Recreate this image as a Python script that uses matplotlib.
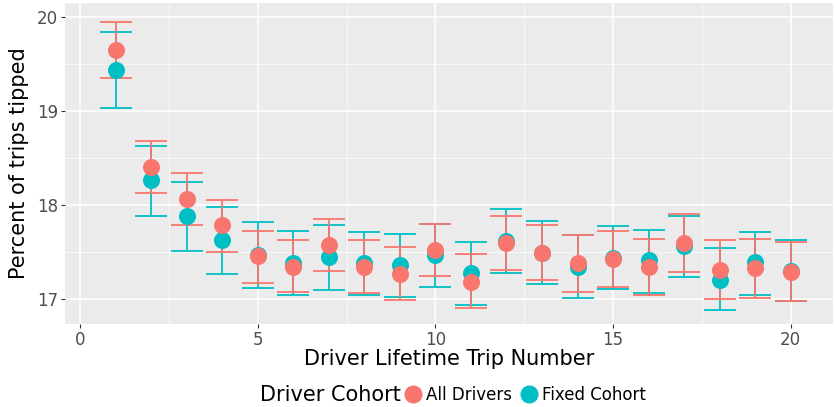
import numpy as np
import matplotlib.pyplot as plt
from matplotlib.lines import Line2D
from matplotlib.ticker import MultipleLocator

trip = np.arange(1, 21)

# All Drivers: mean, lower, upper
all_mean = [19.65, 18.40, 18.06, 17.78, 17.45, 17.34, 17.57, 17.34, 17.26, 17.52,
            17.18, 17.59, 17.49, 17.38, 17.42, 17.34, 17.59, 17.31, 17.33, 17.28]
all_lo = [19.35, 18.12, 17.78, 17.50, 17.17, 17.07, 17.29, 17.06, 16.99, 17.24,
          16.90, 17.30, 17.20, 17.07, 17.12, 17.04, 17.28, 17.00, 17.01, 16.97]
all_hi = [19.95, 18.68, 18.34, 18.05, 17.72, 17.62, 17.85, 17.62, 17.55, 17.80,
          17.47, 17.88, 17.78, 17.68, 17.72, 17.64, 17.90, 17.62, 17.64, 17.60]

# Fixed Cohort: mean, lower, upper
fix_mean = [19.44, 18.26, 17.88, 17.62, 17.46, 17.38, 17.44, 17.38, 17.36, 17.46,
            17.27, 17.61, 17.49, 17.34, 17.43, 17.41, 17.56, 17.20, 17.39, 17.29]
fix_lo = [19.03, 17.88, 17.51, 17.26, 17.11, 17.04, 17.09, 17.04, 17.02, 17.12,
          16.93, 17.27, 17.16, 17.01, 17.10, 17.06, 17.23, 16.88, 17.04, 16.97]
fix_hi = [19.84, 18.63, 18.24, 17.98, 17.82, 17.72, 17.78, 17.71, 17.69, 17.79,
          17.60, 17.95, 17.83, 17.68, 17.77, 17.73, 17.88, 17.54, 17.71, 17.62]

red = '#F8766D'
teal = '#00BFC4'

fig = plt.figure(figsize=(8.35, 4.07), dpi=100)
ax = fig.add_axes([0.078, 0.204, 0.92, 0.789])
ax.set_facecolor('#EBEBEB')

def draw_err(mean, lo, hi, color, z):
    mean = np.array(mean)
    yerr = [mean - np.array(lo), np.array(hi) - mean]
    ax.errorbar(trip, mean, yerr=yerr, fmt='none', ecolor=color, elinewidth=1.3,
                capsize=11.5, capthick=1.3, zorder=z)

draw_err(fix_mean, fix_lo, fix_hi, teal, 3)
draw_err(all_mean, all_lo, all_hi, red, 3)
ax.scatter(trip, fix_mean, s=150, color=teal, zorder=4, linewidths=0)
ax.scatter(trip, all_mean, s=150, color=red, zorder=5, linewidths=0)

ax.set_xlim(-0.42, 21.2)
ax.set_ylim(16.73, 20.15)
ax.xaxis.set_major_locator(MultipleLocator(5))
ax.xaxis.set_minor_locator(MultipleLocator(2.5))
ax.yaxis.set_major_locator(MultipleLocator(1))
ax.yaxis.set_minor_locator(MultipleLocator(0.5))
ax.grid(which='major', color='white', linewidth=1.1, zorder=0)
ax.grid(which='minor', color='white', linewidth=0.5, zorder=0)
ax.set_axisbelow(True)
for s in ax.spines.values():
    s.set_visible(False)
ax.tick_params(which='major', length=3, color='#333333', labelsize=12,
               labelcolor='#4D4D4D', pad=2)
ax.tick_params(which='minor', length=0)

ax.set_xlabel('Driver Lifetime Trip Number', fontsize=15, labelpad=0)
ax.set_ylabel('Percent of trips tipped', fontsize=15, labelpad=6)

fig.text(0.48, 0.03, 'Driver Cohort', fontsize=15, ha='right', va='center')
handles = [Line2D([], [], marker='o', linestyle='none', markersize=12, color=red),
           Line2D([], [], marker='o', linestyle='none', markersize=12, color=teal)]
fig.legend(handles, ['All Drivers', 'Fixed Cohort'], loc='center left',
           bbox_to_anchor=(0.482, 0.03), ncol=2, frameon=False, fontsize=12,
           handletextpad=0.1, columnspacing=0.4, handlelength=1.3,
           borderpad=0, borderaxespad=0)

fig.savefig('out.png', dpi=100)
